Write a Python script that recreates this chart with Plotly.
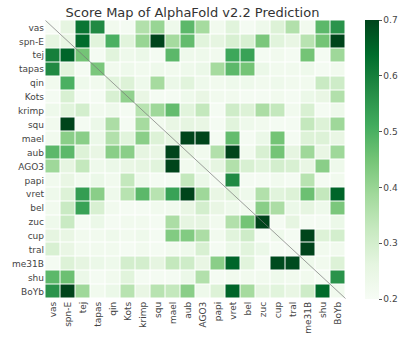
import plotly.graph_objects as go

labels = ["vas", "spn-E", "tej", "tapas", "qin", "Kots", "krimp", "squ", "mael", "aub",
          "AGO3", "papi", "vret", "bel", "zuc", "cup", "tral", "me31B", "shu", "BoYb"]

row_vas   = [0.20, 0.26, 0.62, 0.58, 0.22, 0.21, 0.36, 0.40, 0.23, 0.48, 0.38, 0.22, 0.27, 0.21, 0.23, 0.28, 0.36, 0.22, 0.48, 0.56]
row_spnE  = [0.26, 0.25, 0.64, 0.27, 0.50, 0.27, 0.40, 0.70, 0.38, 0.47, 0.27, 0.26, 0.29, 0.29, 0.44, 0.27, 0.25, 0.35, 0.45, 0.70]
row_tej   = [0.60, 0.65, 0.45, 0.21, 0.27, 0.23, 0.24, 0.21, 0.48, 0.23, 0.23, 0.22, 0.52, 0.53, 0.21, 0.22, 0.21, 0.45, 0.21, 0.39]
row_tapas = [0.58, 0.27, 0.21, 0.44, 0.22, 0.23, 0.22, 0.23, 0.22, 0.23, 0.24, 0.38, 0.48, 0.45, 0.24, 0.22, 0.22, 0.23, 0.21, 0.22]
row_qin   = [0.22, 0.50, 0.23, 0.22, 0.27, 0.28, 0.23, 0.38, 0.24, 0.27, 0.23, 0.22, 0.23, 0.23, 0.22, 0.23, 0.22, 0.22, 0.32, 0.31]
row_Kots  = [0.21, 0.29, 0.21, 0.21, 0.29, 0.41, 0.25, 0.21, 0.21, 0.23, 0.25, 0.22, 0.22, 0.21, 0.21, 0.22, 0.21, 0.24, 0.25, 0.36]
row_krimp = [0.23, 0.27, 0.30, 0.22, 0.23, 0.21, 0.35, 0.39, 0.47, 0.27, 0.33, 0.21, 0.31, 0.28, 0.37, 0.33, 0.22, 0.29, 0.21, 0.23]
row_squ   = [0.22, 0.70, 0.21, 0.24, 0.37, 0.21, 0.38, 0.22, 0.25, 0.26, 0.25, 0.21, 0.27, 0.23, 0.22, 0.21, 0.21, 0.33, 0.28, 0.39]
row_mael  = [0.22, 0.42, 0.42, 0.24, 0.36, 0.27, 0.42, 0.28, 0.26, 0.70, 0.70, 0.21, 0.47, 0.21, 0.24, 0.45, 0.21, 0.28, 0.28, 0.25]
row_aub   = [0.48, 0.48, 0.28, 0.25, 0.42, 0.42, 0.26, 0.25, 0.70, 0.25, 0.22, 0.36, 0.70, 0.22, 0.29, 0.45, 0.26, 0.39, 0.25, 0.39]
row_AGO3  = [0.39, 0.26, 0.33, 0.23, 0.24, 0.25, 0.26, 0.27, 0.70, 0.22, 0.24, 0.26, 0.36, 0.29, 0.27, 0.30, 0.29, 0.25, 0.42, 0.23]
row_papi  = [0.22, 0.25, 0.22, 0.24, 0.22, 0.33, 0.23, 0.21, 0.21, 0.33, 0.24, 0.21, 0.58, 0.21, 0.21, 0.22, 0.21, 0.35, 0.21, 0.22]
row_vret  = [0.23, 0.28, 0.54, 0.42, 0.23, 0.35, 0.48, 0.35, 0.53, 0.70, 0.39, 0.25, 0.27, 0.23, 0.36, 0.27, 0.28, 0.46, 0.33, 0.65]
row_bel   = [0.22, 0.32, 0.53, 0.29, 0.22, 0.21, 0.21, 0.22, 0.22, 0.25, 0.30, 0.25, 0.23, 0.22, 0.42, 0.37, 0.24, 0.26, 0.23, 0.44]
row_zuc   = [0.23, 0.32, 0.21, 0.24, 0.21, 0.22, 0.22, 0.21, 0.37, 0.26, 0.26, 0.22, 0.36, 0.45, 0.70, 0.21, 0.26, 0.21, 0.21, 0.24]
row_cup   = [0.26, 0.25, 0.22, 0.22, 0.23, 0.22, 0.23, 0.21, 0.43, 0.43, 0.37, 0.22, 0.27, 0.31, 0.21, 0.23, 0.21, 0.70, 0.28, 0.30]
row_tral  = [0.29, 0.25, 0.22, 0.22, 0.22, 0.21, 0.22, 0.21, 0.22, 0.23, 0.29, 0.21, 0.24, 0.27, 0.24, 0.21, 0.21, 0.70, 0.22, 0.22]
row_me31B = [0.21, 0.28, 0.26, 0.24, 0.23, 0.30, 0.30, 0.26, 0.33, 0.31, 0.25, 0.42, 0.65, 0.27, 0.21, 0.69, 0.69, 0.23, 0.22, 0.28]
row_shu   = [0.48, 0.46, 0.24, 0.21, 0.22, 0.27, 0.21, 0.21, 0.21, 0.24, 0.36, 0.21, 0.22, 0.22, 0.22, 0.23, 0.22, 0.22, 0.21, 0.56]
row_BoYb  = [0.56, 0.70, 0.39, 0.22, 0.24, 0.35, 0.25, 0.35, 0.33, 0.42, 0.23, 0.28, 0.65, 0.38, 0.26, 0.27, 0.25, 0.31, 0.64, 0.22]

scores = [row_vas, row_spnE, row_tej, row_tapas, row_qin, row_Kots, row_krimp, row_squ,
          row_mael, row_aub, row_AGO3, row_papi, row_vret, row_bel, row_zuc, row_cup,
          row_tral, row_me31B, row_shu, row_BoYb]

greens = [[0.0, "#f7fcf5"], [0.125, "#e5f5e0"], [0.25, "#c7e9c0"], [0.375, "#a1d99b"],
          [0.5, "#74c476"], [0.625, "#41ab5d"], [0.75, "#238b45"], [0.875, "#006d2c"],
          [1.0, "#00441b"]]

FONT = "DejaVu Sans"

fig = go.Figure(go.Heatmap(
    z=scores, x=labels, y=labels,
    colorscale=greens, zmin=0.2, zmax=0.7,
    xgap=1, ygap=1,
    colorbar=dict(
        x=(368 - 37) / 311, xanchor="left", xpad=0,
        y=0.5, yanchor="middle", len=1.0, lenmode="fraction",
        thickness=14, ypad=0, outlinewidth=0,
        tickvals=[0.2, 0.3, 0.4, 0.5, 0.6, 0.7],
        ticktext=["0.2", "0.3", "0.4", "0.5", "0.6", "0.7"],
        ticks="outside", ticklen=3, tickcolor="#555",
        tickfont=dict(family=FONT, size=9, color="#444"),
    ),
))

fig.add_shape(type="line", xref="x", yref="y",
              x0=-0.5, y0=-0.5, x1=len(labels) - 0.5, y1=len(labels) - 0.5,
              line=dict(color="rgba(120,120,120,0.7)", width=1))

fig.update_layout(
    width=411, height=346,
    margin=dict(l=37, r=63, t=20, b=43),
    paper_bgcolor="white", plot_bgcolor="white",
    title=dict(text="Score Map of AlphaFold v2.2 Prediction",
               x=(192.5) / 411, xanchor="center", y=1 - 12 / 346, yanchor="middle",
               font=dict(family=FONT, size=13, color="#333")),
    xaxis=dict(tickangle=-90, showgrid=False, zeroline=False, showline=False,
               tickfont=dict(family=FONT, size=9, color="#444"), ticks="",
               tickmode="array", tickvals=labels, ticktext=labels),
    yaxis=dict(autorange="reversed", showgrid=False, zeroline=False, showline=False,
               tickfont=dict(family=FONT, size=9, color="#444"), ticks="",
               tickmode="array", tickvals=labels, ticktext=labels),
)

fig.write_html("out.html")
